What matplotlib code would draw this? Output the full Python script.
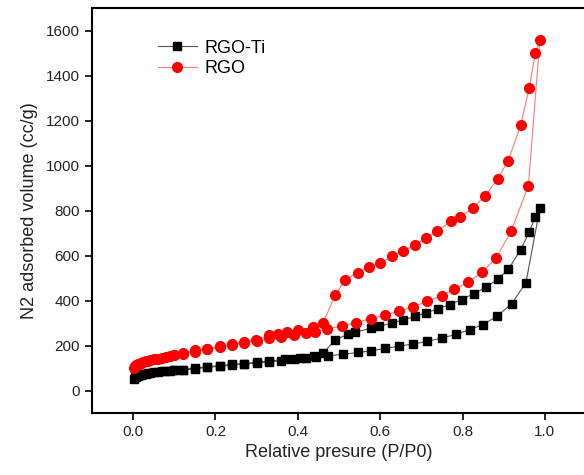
import matplotlib.pyplot as plt

plt.rcParams['font.family'] = ['Liberation Sans', 'DejaVu Sans']

# RGO-Ti, adsorption branch
ti_ads_x = [0.002, 0.005, 0.008, 0.012, 0.016, 0.02, 0.025, 0.03, 0.035, 0.04, 0.05, 0.06, 0.07, 0.08,
            0.09, 0.1, 0.12, 0.15, 0.18, 0.21, 0.24, 0.27, 0.30, 0.33, 0.36, 0.39, 0.42, 0.445, 0.474,
            0.510, 0.545, 0.577, 0.612, 0.646, 0.680, 0.714, 0.751, 0.784, 0.818, 0.849, 0.884, 0.919,
            0.954, 0.988]
ti_ads_y = [52, 58, 62, 66, 69, 71, 73, 75, 77, 78, 81, 83, 85, 87, 88, 90, 92, 97, 103, 108, 113, 118,
            122, 127, 132, 138, 145, 150, 154, 161, 169, 176, 187, 197, 207, 218, 234, 249, 271, 293, 330,
            385, 479, 812]
# RGO-Ti, desorption branch
ti_des_x = [0.976, 0.962, 0.941, 0.911, 0.886, 0.858, 0.828, 0.798, 0.769, 0.740, 0.711, 0.684, 0.656,
            0.628, 0.598, 0.577, 0.540, 0.521, 0.490, 0.462, 0.439, 0.405, 0.37, 0.33, 0.30, 0.27, 0.24,
            0.21, 0.18, 0.15, 0.12, 0.1]
ti_des_y = [770, 704, 625, 538, 496, 460, 431, 404, 382, 363, 345, 329, 314, 299, 286, 277, 259, 249, 225,
            166, 155, 145, 138, 131, 125, 120, 116, 110, 106, 99, 93, 90]

# RGO, adsorption branch
rgo_ads_x = [0.002, 0.005, 0.008, 0.012, 0.016, 0.02, 0.025, 0.03, 0.035, 0.04, 0.05, 0.06, 0.07, 0.08,
             0.09, 0.1, 0.12, 0.15, 0.18, 0.21, 0.24, 0.27, 0.30, 0.33, 0.36, 0.39, 0.42, 0.442, 0.472,
             0.508, 0.541, 0.577, 0.612, 0.646, 0.680, 0.713, 0.749, 0.780, 0.814, 0.848, 0.882, 0.918,
             0.960, 0.988]
rgo_ads_y = [100, 108, 113, 117, 120, 123, 126, 129, 131, 134, 138, 142, 146, 150, 153, 156, 162, 172,
             183, 193, 203, 212, 222, 232, 240, 248, 256, 262, 274, 287, 301, 320, 335, 354, 372, 396, 421,
             450, 481, 527, 590, 708, 911, 1560]
# RGO, desorption branch
rgo_des_x = [0.977, 0.962, 0.941, 0.911, 0.885, 0.855, 0.826, 0.795, 0.773, 0.738, 0.712, 0.684, 0.655,
             0.629, 0.600, 0.574, 0.545, 0.515, 0.491, 0.461, 0.438, 0.400, 0.373, 0.353, 0.33, 0.298,
             0.27, 0.24, 0.21, 0.18, 0.15, 0.12, 0.1]
rgo_des_y = [1501, 1345, 1178, 1022, 938, 866, 812, 772, 753, 708, 678, 647, 619, 596, 567, 548, 524, 493,
             425, 299, 281, 270, 262, 252, 245, 225, 217, 205, 196, 185, 178, 168, 160]

fig = plt.figure(figsize=(5.84, 4.75), dpi=100)
ax = fig.add_axes([0.1575, 0.1305, 0.846, 0.8526])

ti_x = ti_ads_x + ti_des_x
ti_y = ti_ads_y + ti_des_y
rgo_x = rgo_ads_x + rgo_des_x
rgo_y = rgo_ads_y + rgo_des_y

ax.plot(ti_x, ti_y, color='#555555', lw=0.8, marker='s', ms=6, mfc='black', mec='black',
        label='RGO-Ti')
ax.plot(rgo_x, rgo_y, color='#ff7777', lw=0.8, marker='o', ms=7, mfc='red', mec='red',
        label='RGO')

ax.set_xlim(-0.1, 1.1)
ax.set_ylim(-100, 1700)
ax.set_xticks([0.0, 0.2, 0.4, 0.6, 0.8, 1.0])
ax.set_yticks(range(0, 1601, 200))
ax.tick_params(direction='out', length=5, width=1.2, labelsize=11, colors='black',
               labelcolor='#222222')
for s in ax.spines.values():
    s.set_linewidth(1.5)

ax.set_xlabel('Relative presure (P/P0)', fontsize=13, labelpad=4, color='#222222')
ax.set_ylabel('N2 adsorbed volume (cc/g)', fontsize=13, labelpad=6, color='#222222')
ax.legend(loc='upper left', bbox_to_anchor=(0.1, 0.962), frameon=False, fontsize=13,
          handlelength=2.2, handletextpad=0.4, labelspacing=0.2)

fig.savefig('out.png', dpi=100)
